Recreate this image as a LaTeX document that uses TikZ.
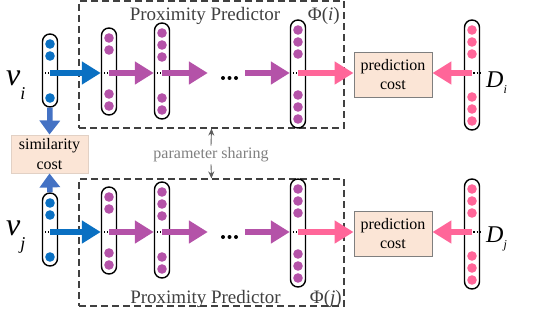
\documentclass[tikz,border=0pt]{standalone}
\usepackage{fontspec}
\setmainfont{Liberation Serif}
\usetikzlibrary{arrows.meta,positioning,calc}
\definecolor{cBlue}{HTML}{0A70C2}
\definecolor{cSky}{HTML}{4472C4}
\definecolor{cPurple}{HTML}{B452A8}
\definecolor{cPink}{HTML}{FF6699}
\definecolor{cPeach}{HTML}{FBE5D6}
\definecolor{cEdge}{HTML}{7F7F7F}
\definecolor{cDash}{HTML}{404040}
\definecolor{cGray}{HTML}{808080}
\tikzset{
  layer/.style={draw=black,line width=1.4pt,rounded corners=7.5pt,minimum width=15pt,inner sep=0pt,minimum height=#1},
  arr/.style={-{Triangle[length=19pt,width=22pt]},line width=6.5pt,color=#1},
  sarr/.style={-{Triangle[length=14pt,width=20pt]},line width=5.5pt,color=cSky},
  garr/.style={-{Stealth[length=7pt,width=6pt]},line width=0.9pt,color=cDash!85},
  pbox/.style={draw=cDash,dash pattern=on 7pt off 4pt,line width=1.2pt,minimum width=265pt,minimum height=127pt,inner sep=0pt},
  cbox/.style={draw=#1,fill=cPeach,line width=0.9pt,align=center,inner sep=0pt,font=\fontsize{16}{19.5}\selectfont},
  ttl/.style={font=\fontsize{19}{20}\selectfont,text=cDash,inner sep=0pt},
  mid/.style={dotted,line width=1.2pt},
}

\begin{document}
\begin{tikzpicture}[x=1pt,y=-1pt]
  \useasboundingbox (0,0) rectangle (538,332);
  % the two proximity predictors
  \node[pbox] (ppi) at (211.5,64.5) {};
  \node[pbox] (ppj) at (211.5,242.5) {};
  \node[ttl,anchor=base] (tti) at (205,20) {Proximity Predictor};
  \node[ttl,anchor=base] (ttj) at (205.5,303) {Proximity Predictor};
  \node[ttl,anchor=base east] (phii) at (340,20) {Φ(\textit{i})};
  \node[ttl,anchor=base east] (phij) at (342,303) {Φ(\textit{j})};
  % one row per node: i on top, j below
  \foreach \r/\o/\vy/\dy in {i/0/85/87,j/159/235/242}{
    \foreach \n/\x/\t/\b/\nt/\nb/\col in {v/50/34/107/2/1/cBlue,a/109/28/115/2/2/cPurple,b/162/23/119/3/2/cPurple,c/298/20/128/3/3/cPurple,d/472/20/130/3/3/cPink}{
      \pgfmathsetmacro\h{\b-\t}
      \node[layer=\h pt] (\n\r) at (\x,{\o+(\t+\b)/2}) {};
      \foreach \k in {1,...,\nt}
        \fill[\col] (\x,{\o+\t+10+12*(\k-1)}) circle (4.8pt);
      \foreach \k in {1,...,\nb}
        \fill[\col] (\x,{\o+\b-9-12*(\k-1)}) circle (4.8pt);
      \coordinate (m\n\r) at (\x,{\o+73});
      \draw[mid] (\n\r.west |- m\n\r) -- (\n\r.east |- m\n\r);
    }
    \node[minimum width=37pt,inner sep=0pt] (e\r) at (226.5,{\o+73}) {};
    \foreach \d in {-6.5,0,6.5}
      \fill (e\r.center) ++(\d+3,5) circle (2pt);
    \node[cbox=cEdge,minimum width=78pt,minimum height=45pt] (p\r) at (393,{\o+74.5}) {prediction\\cost};
    \draw[arr=cBlue] (mv\r) -- (a\r.west |- ma\r);
    \draw[arr=cPurple] (ma\r) -- (b\r.west |- mb\r);
    \draw[arr=cPurple] (mb\r) -- (e\r.west);
    \draw[arr=cPurple] (e\r.east) -- (c\r.west |- mc\r);
    \draw[arr=cPink] (mc\r) -- (p\r.west |- mc\r);
    \draw[arr=cPink] (md\r) -- (p\r.east |- md\r);
    \node[anchor=base west,inner sep=0pt] (lv\r) at (6,\vy) {{\fontsize{32}{32}\selectfont\itshape v}\raisebox{-14pt}{\fontsize{18}{18}\selectfont\itshape \r}};
    \node[anchor=base west,inner sep=0pt] (ld\r) at (486,\dy) {{\fontsize{24}{24}\selectfont\itshape D}\raisebox{-6pt}{\fontsize{12}{12}\selectfont\itshape \r}};
  }
  % similarity and sharing
  \node[cbox=cPeach!80!cEdge,minimum width=77pt,minimum height=38pt] (sim) at (49.5,154) {similarity\\cost};
  \draw[sarr] (vi.south) -- (sim.north);
  \draw[sarr] (vj.north) -- (sim.south);
  \node[font=\fontsize{16}{17}\selectfont,text=cGray,inner sep=2pt] (ps) at (211,155) {parameter sharing};
  \draw[garr] (ps.north) -- (ppi.south);
  \draw[garr] (ps.south) -- (ppj.north);
\end{tikzpicture}
\end{document}
